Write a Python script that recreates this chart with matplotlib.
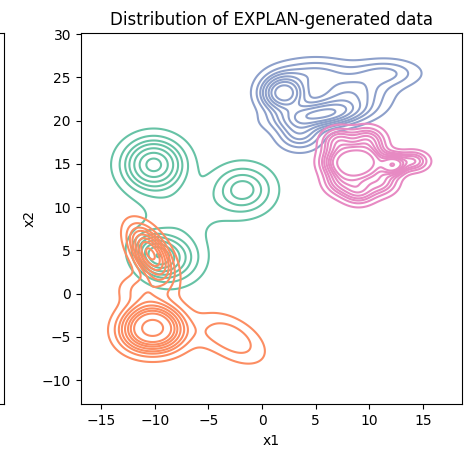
import numpy as np
import matplotlib.pyplot as plt

# Set2 colours, one per class
colors = ["#66c2a5", "#fc8d62", "#8da0cb", "#e78ac3"]

# mixture components: mean x, mean y, sd x, sd y, corr, weight
green_mx = [-10.1, -1.8, -10.0, -8.4, -7.5]
green_my = [14.9, 12.0, 4.5, 4.2, 9.5]
green_sx = [1.8, 1.8, 1.2, 1.8, 2.6]
green_sy = [1.9, 1.8, 1.4, 1.9, 2.0]
green_r = [0.0, 0.0, -0.2, 0.0, 0.0]
green_w = [0.38, 0.19, 0.14, 0.2, 0.09]

orange_mx = [-10.4, -11.1, -9.3, -10.2, -2.8, -11.0, -5.5]
orange_my = [4.6, -4.4, -4.4, -3.2, -5.2, 0.5, -5.0]
orange_sx = [1.2, 1.5, 1.5, 1.5, 1.9, 1.5, 1.3]
orange_sy = [1.9, 1.5, 1.5, 1.5, 1.8, 1.2, 1.2]
orange_r = [-0.55, 0.0, 0.0, 0.0, -0.5, 0.0, 0.0]
orange_w = [0.24, 0.18, 0.18, 0.18, 0.1, 0.05, 0.01]

blue_mx = [2.0, 5.5, 3.5, 8.0, 11.5, 5.0]
blue_my = [23.2, 20.7, 18.5, 23.0, 25.5, 25.5]
blue_sx = [1.3, 2.5, 1.3, 2.3, 2.0, 2.2]
blue_sy = [1.3, 1.0, 1.2, 1.4, 1.0, 1.1]
blue_r = [0.0, 0.3, 0.0, 0.2, 0.0, 0.0]
blue_w = [0.26, 0.3, 0.09, 0.2, 0.08, 0.1]

pink_mx = [8.7, 7.0, 10.3, 7.2, 9.8, 9.0, 7.4, 11.0, 12.2, 14.0]
pink_my = [15.1, 15.2, 15.3, 17.5, 17.6, 12.0, 13.0, 13.0, 14.9, 15.3]
pink_sx = [1.0, 1.0, 1.0, 1.0, 1.0, 1.0, 1.0, 1.0, 0.7, 0.9]
pink_sy = [1.0, 1.0, 1.0, 1.0, 1.0, 1.0, 1.0, 1.0, 0.7, 0.7]
pink_r = [0.0] * 10
pink_w = [0.32, 0.08, 0.08, 0.07, 0.07, 0.07, 0.06, 0.06, 0.07, 0.04]

classes = [
    (green_mx, green_my, green_sx, green_sy, green_r, green_w),
    (orange_mx, orange_my, orange_sx, orange_sy, orange_r, orange_w),
    (blue_mx, blue_my, blue_sx, blue_sy, blue_r, blue_w),
    (pink_mx, pink_my, pink_sx, pink_sy, pink_r, pink_w),
]


def mixture(X, Y, mx, my, sx, sy, r, w):
    Z = np.zeros_like(X)
    for a, b, s, t, p, k in zip(mx, my, sx, sy, r, w):
        u = (X - a) / s
        v = (Y - b) / t
        q = (u**2 - 2 * p * u * v + v**2) / (1 - p**2)
        Z += k * np.exp(-q / 2) / (2 * np.pi * s * t * np.sqrt(1 - p**2))
    return Z / sum(w)


xx = np.linspace(-17, 19, 400)
yy = np.linspace(-13, 31, 400)
X, Y = np.meshgrid(xx, yy)
dens = [0.25 * mixture(X, Y, *c) for c in classes]

# iso-proportion levels shared by all classes (like seaborn common_norm)
props = np.linspace(0.05, 1, 10)
vals = np.sort(np.concatenate([d.ravel() for d in dens]))[::-1]
cum = np.cumsum(vals) / vals.sum()
levels = np.take(vals, np.searchsorted(cum, 1 - props), mode="clip")
levels = np.unique(levels)

fig = plt.figure(figsize=(4.68, 4.49), dpi=100)

# neighbour panel cut off at the left
ax0 = fig.add_axes([-0.6, 0.0996, 0.6085, 0.8263])
ax0.set_xticks([])
ax0.set_yticks([])

ax = fig.add_axes([0.1724, 0.0996, 0.8141, 0.8263])
for d, c in zip(dens, colors):
    ax.contour(X, Y, d, levels=levels, colors=c, linewidths=1.5)

ax.set_xlim(-16.9, 18.6)
ax.set_ylim(-12.8, 30.1)
ax.set_xticks([-15, -10, -5, 0, 5, 10, 15])
ax.set_yticks([-10, -5, 0, 5, 10, 15, 20, 25, 30])
ax.set_xlabel("x1")
ax.set_ylabel("x2")
ax.set_title("Distribution of EXPLAN-generated data")

plt.savefig("out.png", dpi=100)
